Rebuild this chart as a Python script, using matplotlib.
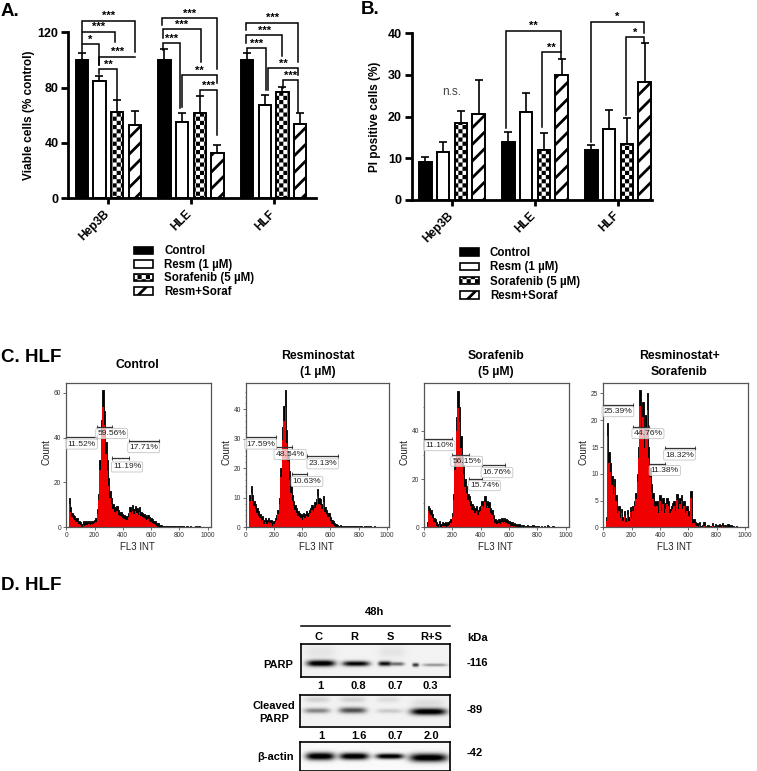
import numpy as np
import matplotlib
matplotlib.use("Agg")
import matplotlib.pyplot as plt
from matplotlib import hatch as mhatch
from matplotlib.path import Path
from matplotlib.patches import Patch
from matplotlib.transforms import ScaledTranslation

W, H = 757, 771
plt.rcParams['font.family'] = ['Liberation Sans', 'DejaVu Sans']
plt.rcParams['hatch.linewidth'] = 2.0

# ---------- data ----------
groups = ['Hep3B', 'HLE', 'HLF']
series = ['Control', 'Resm (1 µM)', 'Sorafenib (5 µM)', 'Resm+Soraf']

viable_means = [[100, 84.5, 62.5, 53], [100, 55, 62, 33], [100, 67.5, 76.5, 53.5]]
viable_tops = [[104.8, 88.4, 71, 63.4], [107.7, 62, 74, 38.5], [104.8, 74.5, 80.5, 61.5]]
viable_brackets = [
    (0, 0, 3, 121, 128.4, 105.8, '***'), (0, 0, 1.9, 112, 120.5, 113, '***'),
    (0, 0, 1, 106, 111.3, 96, '*'), (0, 1, 3, 96, 102.4, 102.4, '***'),
    (0, 1, 2, 90, 93.5, 71, '**'),
    (1, -.13, 3, 125.3, 130.1, 93.5, '***'), (1, -.08, 2.04, 115.7, 122.4, 98.8, '***'),
    (1, -.08, .87, 107.2, 112, 65, '***'), (1, 1, 3, 66.3, 89.2, 83.1, '**'),
    (1, 2, 3, 74.7, 78.3, 45.8, '***'),
    (2, -.08, 2.9, 121.7, 127, 98.3, '***'), (2, -.04, 1.96, 112, 118, 102.9, '***'),
    (2, 0, 1.08, 104.8, 108.4, 78.3, '***'), (2, 1.17, 2.9, 78.3, 94, 89.2, '**'),
    (2, 2.02, 2.9, 79.5, 85.5, 62.7, '***'),
]
pi_means = [[9.2, 11.4, 18.4, 20.6], [14, 21.1, 12, 30], [12, 17.1, 13.5, 28.3]]
pi_tops = [[10.4, 14, 21.4, 28.9], [16.2, 25.6, 16.1, 33.8], [13.3, 21.7, 19.6, 37.6]]
pi_brackets = [
    (1, -.11, 2.98, 17.2, 40.6, 35.6, '**'), (1, 1.9, 2.98, 17.4, 35.4, 33.8, '**'),
    (2, -.04, 2.96, 14, 42.8, 40, '*'), (2, 1.96, 2.96, 20.4, 39, 37.6, '*'),
]

hist_control = [13, 9, 6.5, 5.5, 5, 4.2, 4, 3, 2.5, 1.6, 2.6, 2.2, 2.8, 2.4, 2.9, 2.5, 3, 3, 3.4, 4.2,
    8, 15, 30, 48, 61, 52, 38, 30, 22, 16, 13, 10.5, 9, 8.5, 9.5, 7.5, 7, 6.8, 6, 5.6,
    5.2, 5, 6.5, 9, 8, 9.8, 8, 9.5, 8.5, 7.5, 9, 7, 6.5, 6, 5.5, 5, 5.5, 4.5, 4, 3.5,
    3, 2.6, 2, 1.8, 1.2, 1, .7, .5, .6, .8, .5, .7, .4, .8, .5, .6, .3, .5, .7, .4,
    .6, .5, .3, .6, .4, .3, .5, .2, .3, .2, .4, .1, .5, .1, 0, 0, 0, 0, 0]
hist_resm = [3, 11, 14, 11, 9, 8, 6.5, 5.5, 4.5, 3.5, 3.8, 2.5, 3, 2.4, 3.2, 2.2, 2.6, 1.8, 2.2, 3,
    4, 6, 10, 20, 34, 41, 46.5, 33, 26, 19, 14, 11, 9, 7.5, 6.5, 5.5, 5, 4.5, 4, 5,
    4.5, 5.5, 5, 6, 6.5, 7.5, 7, 8.5, 9.5, 13, 10, 9.5, 8, 10.5, 7, 6, 5, 5, 3.5, 2.5,
    2, 1.5, 1.2, .7, .5, .8, .5, .4, .3, .6, .4, .3, .4, .5, .3, .5, .3, .4, .2, .3,
    .6, .2, .3, .5, .2, .4, .6, .2, .1, .3, .1, .1, .2, .1, 0, 0, 0, 0, 0]
hist_sora = [2, 9, 8, 7, 5.5, 4, 3.5, 2, 1.5, 2.5, 1.5, 2, 1.8, 2.2, 1.6, 2.2, 2.5, 3.5, 6, 14,
    28, 46, 56.5, 50, 38, 29, 26, 20, 17, 14, 13, 11, 9.5, 9, 8, 9, 7, 8.5, 9, 11,
    10.5, 13, 10.5, 11, 10.5, 8, 7, 5, 3.5, 3, 2.8, 3.5, 3, 3.8, 3.2, 4, 3.5, 3, 2.8, 2.2,
    2, 1.5, 1.8, 1.3, 1, 1.2, .9, .7, .9, .7, .6, .8, .5, .7, .5, .8, .4, .6, .5, .4,
    .3, .5, .3, .6, .3, .8, .5, .3, .2, .4, .2, .1, .3, .1, .2, .1, 0, 0, 0]
hist_combo = [2, 19.5, 14, 12, 9.5, 7.5, 9, 6, 3.5, 4, 2.5, 3.5, 2, 3, 1.8, 3.2, 2, 3.8, 2.5, 4,
    5, 6.5, 10, 15, 25.7, 20, 23.5, 17, 21, 25, 15, 11, 8, 6.5, 5, 4.8, 5, 3.5, 6, 4,
    5.5, 3.5, 4.5, 5.5, 5, 3.5, 4, 4.5, 5, 4, 6.3, 4.5, 5.5, 6, 4.5, 5, 3.5, 4, 3, 2.7,
    6.7, 1.5, 1.5, 1, .8, .6, 1, .3, .5, .9, .2, .1, .5, .1, .2, .8, .3, .7, .1, .4,
    .7, .4, .8, .2, .5, .3, .6, .4, .5, .2, .3, .1, .2, 0, 0, 0, 0, 0, 0]
hist_titles = ['Control', 'Resminostat\n(1 µM)', 'Sorafenib\n(5 µM)', 'Resminostat+\nSorafenib']
hist_yticks = [[0, 20, 40, 60], [0, 10, 20, 30, 40], [0, 20, 40], [0, 5, 10, 15, 20, 25]]
hist_minor = [[], list(range(2, 48, 2)), [10, 30, 50], []]
hist_gates = [
    [(0, 215, 40.1, '11.52%', 109, 37.1), (215, 326, 44.6, '59.56%', 321, 41.8),
     (442, 655, 38.6, '17.71%', 548, 35.5), (326, 442, 31, '11.19%', 430, 26.9)],
    [(0, 215, 30.5, '17.59%', 106, 28.2), (215, 331, 27.3, '48.54%', 314, 24.7),
     (437, 652, 24, '23.13%', 545, 21.5), (331, 437, 18, '10.63%', 434, 15.5)],
    [(0, 200, 36.7, '11.10%', 108, 33.9), (200, 320, 30, '56.15%', 301, 27.4),
     (412, 569, 25.7, '16.76%', 515, 22.7), (320, 412, 20, '15.74%', 426, 17.3)],
    [(0, 211, 22.8, '25.39%', 103, 21.6), (207, 326, 18.8, '44.76%', 315, 17.5),
     (434, 648, 14.8, '18.32%', 538, 13.5), (326, 434, 11.8, '11.38%', 434, 10.6)],
]
blot_lanes = ['C', 'R', 'S', 'R+S']
parp_ratio = ['1', '0.8', '0.7', '0.3']
cleaved_ratio = ['1', '1.6', '0.7', '2.0']

# ---------- checker hatch ----------
class CheckerHatch(mhatch.HatchPatternBase):
    def __init__(self, hatch_str, density):
        self.n = hatch_str.count('.') * density
        self.num_vertices = 2 * self.n ** 2 * 5

    def set_vertices_and_codes(self, vertices, codes):
        if self.num_vertices == 0:
            return
        c = 1.0 / (2 * self.n)
        ins = 0.0139
        k = 0
        for i in range(2 * self.n):
            for j in range(2 * self.n):
                if (i + j) % 2:
                    continue
                x0, y0, x1, y1 = i * c + ins, j * c + ins, (i + 1) * c - ins, (j + 1) * c - ins
                vertices[k:k + 5] = [(x0, y0), (x1, y0), (x1, y1), (x0, y1), (x0, y0)]
                codes[k:k + 5] = [Path.MOVETO, Path.LINETO, Path.LINETO, Path.LINETO, Path.CLOSEPOLY]
                k += 5

mhatch._hatch_types[6] = CheckerHatch

fig = plt.figure(figsize=(W / 100, H / 100), dpi=100)

def axpx(x0, y0, x1, y1):
    return fig.add_axes([x0 / W, 1 - y1 / H, (x1 - x0) / W, (y1 - y0) / H])

def txt(x, y, s, size=8.5, weight='bold', ha='center', va='center', **kw):
    fig.text(x / W, 1 - y / H, s, fontsize=size, fontweight=weight, ha=ha, va=va, **kw)

STEP = 248 / 53
styles = [dict(facecolor='black', hatch=None), dict(facecolor='white', hatch=None),
          dict(facecolor='white', hatch='..'), dict(facecolor='white', hatch='//')]

def bar_panel(rect, xlim, ymax, yticks, means, tops, brackets, label_gap):
    ax = axpx(*rect)
    for j in range(4):
        xs = [g * STEP + j - 1.5 for g in range(3)]
        m = [means[g][j] for g in range(3)]
        t = [tops[g][j] for g in range(3)]
        ax.errorbar(xs, m, yerr=[[0, 0, 0], np.array(t) - np.array(m)], fmt='none',
                    ecolor='black', elinewidth=1.2, capsize=2.7, capthick=1.2, zorder=1, clip_on=False)
        ax.bar(xs, m, width=0.71, edgecolor='black', linewidth=1.4, zorder=2, **styles[j])
    for g, jl, jr, yl, top, yr, lab in brackets:
        xl, xr = g * STEP + jl - 1.5, g * STEP + jr - 1.5
        ax.plot([xl, xl, xr, xr], [yl, top, top, yr], color='black', lw=1.1, clip_on=False, zorder=3,
                solid_joinstyle='miter')
        ax.annotate(lab, ((xl + xr) / 2, top + label_gap), xytext=(0, -3), textcoords='offset points',
                    ha='center', va='baseline', fontsize=8, fontweight='bold', annotation_clip=False)
    ax.set_xlim(*xlim)
    ax.set_ylim(0, ymax)
    ax.set_yticks(yticks)
    ax.set_xticks([g * STEP for g in range(3)])
    ax.set_xticklabels(groups, rotation=45, ha='right', rotation_mode='anchor', fontsize=8.6, fontweight='bold')
    ax.tick_params(axis='y', labelsize=9, width=2, length=5, pad=2)
    ax.tick_params(axis='x', width=2, length=4, pad=3)
    shift = ScaledTranslation(-5 / 100, 0, fig.dpi_scale_trans)
    for lab in ax.get_xticklabels():
        lab.set_transform(lab.get_transform() + shift)
    for lab in ax.get_yticklabels():
        lab.set_fontweight('bold')
    for s in ['top', 'right']:
        ax.spines[s].set_visible(False)
    for s in ['left', 'bottom']:
        ax.spines[s].set_linewidth(2)
    ax.patch.set_alpha(0)
    return ax

def legend(x, y, spacing):
    handles = [Patch(edgecolor='black', linewidth=1.2, **styles[j]) for j in range(4)]
    fig.legend(handles, series, loc='upper left', bbox_to_anchor=(x / W, 1 - y / H), frameon=False,
               prop=dict(size=8.3, weight='bold'), handlelength=1.65, handleheight=0.6,
               handletextpad=0.95, labelspacing=spacing, borderpad=0, borderaxespad=0)

bar_panel((68.3, 32.3, 316, 198.3), ((205 - 325) / 53, (948 - 325) / 53), 120, [0, 40, 80, 120],
          viable_means, viable_tops, viable_brackets, 4)
bar_panel((411.7, 33.3, 652, 200), ((185 - 306) / 53.2, (906 - 306) / 53.2), 40, [0, 10, 20, 30, 40],
          pi_means, pi_tops, pi_brackets, 1.4)
txt(29, 115, 'Viable cells (% control)', rotation=90)
txt(375, 117, 'PI positive cells (%)', rotation=90)
txt(452, 92, 'n.s.', weight='normal', color='#444444', size=8.6)
legend(134.3, 245.5, 0.13)
legend(460, 247, 0.2)

txt(1, 11, 'A.', size=13.5, ha='left')
txt(361, 10, 'B.', size=13.5, ha='left')
txt(1, 358, 'C. HLF', size=13.5, ha='left')
txt(1, 585, 'D. HLF', size=13.5, ha='left')

# ---------- histograms ----------
hist_data = [hist_control, hist_resm, hist_sora, hist_combo]
hist_boxes = [(66.3, 210.7, 207.5, 64.2), (245.7, 389.3, 387, 48.8), (424, 568.7, 565.7, 59.8), (603.3, 748, 745, 26.9)]
title_x = [137.3, 317.5, 496, 679]
for k in range(4):
    x0, x1, x1000, ytop = hist_boxes[k]
    ax = axpx(x0, 383.3, x1, 527.3)
    scale = 1000 / (x1000 - x0)
    vals = np.array(hist_data[k], float)
    bins = 20 + 10 * np.arange(len(vals))
    band = 3 * ytop / 144
    ax.fill_between(bins, 0, vals, step='mid', color='black', lw=0.6)
    ax.fill_between(bins, 0, np.maximum(vals * 0.9 - band, 0), step='mid', color='#f00000', lw=0)
    ax.set_xlim(0, (x1 - x0) * scale)
    ax.set_ylim(0, ytop)
    ax.set_xticks(range(0, 1001, 200))
    ax.set_yticks(hist_yticks[k])
    ax.set_yticks(hist_minor[k], minor=True)
    ax.tick_params(labelsize=4.8, length=2, width=0.5, pad=1.5, colors='#333333')
    ax.tick_params(which='minor', length=1, width=0.4, colors='#333333')
    for s in ax.spines.values():
        s.set_linewidth(0.9)
        s.set_color('#555555')
    for xa, xb, yg, lab, xl, yl in hist_gates[k]:
        ax.plot([xa, xb], [yg, yg], color='#333333', lw=0.9, clip_on=False)
        ax.plot([xa, xb], [yg, yg], ls='none', marker='|', ms=3.5, mew=0.6, color='#333333', clip_on=False)
        ax.text(xl, yl, lab, fontsize=6.1, ha='center', va='center', color='#222222',
                bbox=dict(boxstyle='round,pad=0.18', fc=(1, 1, 1, 0.72), ec='#c4c4c4', lw=0.6))
    txt(x0 + 71, 547.5, 'FL3 INT', size=7, weight='normal', color='#222222')
    txt(x0 - 19.5, 452, 'Count', size=7, weight='normal', rotation=90, color='#222222')
    lines = hist_titles[k].split('\n')
    if len(lines) == 1:
        txt(title_x[k], 364.5, lines[0], size=8.8)
    else:
        txt(title_x[k], 356, lines[0], size=8.8)
        txt(title_x[k], 372, lines[1], size=8.8)

# ---------- western blots ----------
def blot(rect, bands, bg=0.95):
    x0, y0, x1, y1 = rect
    xx, yy = np.meshgrid(np.linspace(x0, x1, 300), np.linspace(y0, y1, 90))
    img = np.full(xx.shape, bg)
    for xa, xb, yc, h, d in bands:
        xc, hw = (xa + xb) / 2, (xb - xa) / 2
        prof = np.exp(-np.abs((xx - xc) / hw) ** 4) * np.exp(-((yy - yc) / (h * 0.75)) ** 2)
        img = img * (1 - np.clip(d * prof * 1.15, 0, 1))
    ax = axpx(*rect)
    ax.imshow(img, cmap='gray', vmin=0, vmax=1, extent=(x0, x1, y1, y0), aspect='auto', interpolation='bilinear')
    ax.set_xticks([])
    ax.set_yticks([])
    for s in ax.spines.values():
        s.set_linewidth(1.2)

blot((301, 644.3, 450.3, 677.3), [(306.7, 335, 663.7, 4.2, 1.0), (342.3, 369.3, 664, 3.5, .9),
     (378, 391, 664, 3.2, .85), (390, 404, 664.3, 2.5, .5), (412, 418.5, 665.3, 2.5, .7),
     (422, 447, 665.3, 2, .35), (305, 335, 652, 8, .05), (378, 405, 652, 8, .05)])
blot((300.3, 694.7, 450.3, 727), [(304, 330, 711, 3.5, .4), (339.3, 366.7, 710.7, 4, .6),
     (377, 403, 711.3, 3, .15), (411, 447, 712, 4.5, 1.0), (305, 330, 700, 4, .12),
     (340, 366, 700, 4, .12), (377, 400, 700, 4, .08), (412, 445, 703, 5, .08)])
blot((299.7, 742.3, 450.3, 770.7), [(305.3, 334.3, 756.3, 5, 1.0), (339, 368.3, 756.3, 4.5, 1.0),
     (375.3, 403.3, 756.3, 3.5, 1.0), (409, 447, 757.7, 5.5, 1.0)], bg=0.98)

line_ax = axpx(301, 625.2, 450, 626.2)
line_ax.axis('off')
line_ax.plot([0, 1], [0.5, 0.5], color='black', lw=1.1, clip_on=False)
line_ax.set_xlim(0, 1)

txt(375, 612, '48h', size=8)
for x, s in zip([318.3, 354, 390.7, 431.7], blot_lanes):
    txt(x, 636.7, s, size=8)
txt(477.3, 637.7, 'kDa', size=8)
txt(292.7, 665.3, 'PARP', size=8, ha='right')
txt(477.7, 663.3, '-116', size=8)
for x, s in zip([320.3, 358.3, 395, 430], parp_ratio):
    txt(x, 686, s, size=8)
txt(274, 706.3, 'Cleaved', size=8)
txt(274, 719, 'PARP', size=8)
txt(474.3, 710, '-89', size=8)
for x, s in zip([321.7, 359.3, 395.7, 431], cleaved_ratio):
    txt(x, 736, s, size=8)
txt(294, 757.3, 'β-actin', size=8, ha='right')
txt(475, 753.3, '-42', size=8)

fig.savefig('out.png', dpi=100)
